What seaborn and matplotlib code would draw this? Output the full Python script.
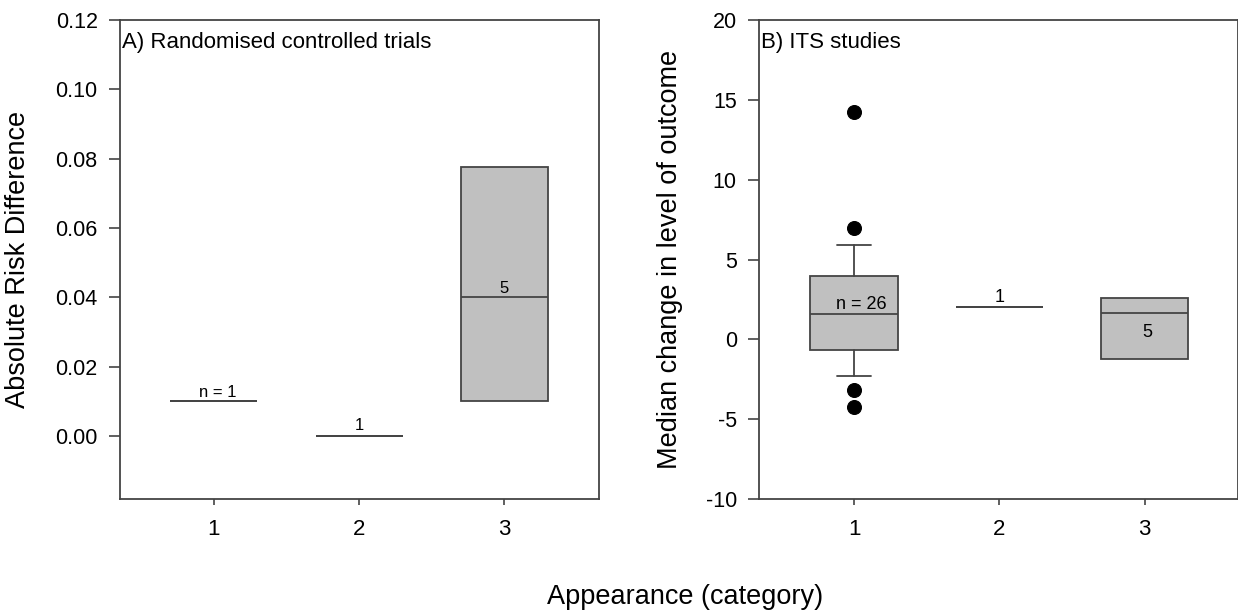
import matplotlib
matplotlib.use('Agg')
import matplotlib.pyplot as plt
import seaborn as sns

# panel A: randomised controlled trials (summary stats per category)
rct_cat = [1, 2, 3]
rct_q1 = [0.01, 0.0, 0.01]
rct_med = [0.01, 0.0, 0.04]
rct_q3 = [0.01, 0.0, 0.0775]
rct_labels = ['n = 1', '1', '5']

# panel B: ITS studies
its_cat = [1, 2, 3]
its_q1 = [-0.68, 2.03, -1.23]
its_med = [1.61, 2.03, 1.65]
its_q3 = [3.95, 2.03, 2.62]
its_wlo = [-2.27, 2.03, -1.23]
its_whi = [5.89, 2.03, 2.62]
its_labels = ['n = 26', '1', '5']
its_out_x = [1, 1, 1, 1]
its_out_y = [14.23, 6.96, -3.18, -4.23]

sns.set_style('ticks')
plt.rcParams['font.family'] = ['Liberation Sans', 'DejaVu Sans']
plt.rcParams['axes.unicode_minus'] = False
plt.rcParams['text.color'] = 'black'
plt.rcParams['axes.labelcolor'] = 'black'
plt.rcParams['xtick.labelcolor'] = 'black'
plt.rcParams['ytick.labelcolor'] = 'black'

line_col = '#444444'
box_col = '#c0c0c0'

fig = plt.figure(figsize=(12.38, 6.14), dpi=100)
ax1 = fig.add_axes([0.0969, 0.1873, 0.3869, 0.7801])
ax2 = fig.add_axes([0.6131, 0.1873, 0.3869, 0.7801])


def draw_boxes(ax, cats, q1, med, q3, wlo, whi, capw):
    stats = []
    for i in range(len(cats)):
        stats.append(dict(med=med[i], q1=q1[i], q3=q3[i],
                          whislo=wlo[i], whishi=whi[i], fliers=[]))
    ax.bxp(stats, positions=cats, widths=0.6, patch_artist=True,
           showfliers=False, capwidths=capw,
           boxprops=dict(facecolor=box_col, edgecolor=line_col, linewidth=1.3),
           medianprops=dict(color=line_col, linewidth=1.3),
           whiskerprops=dict(color=line_col, linewidth=1.3),
           capprops=dict(color=line_col, linewidth=1.3))


def style_axis(ax):
    for s in ax.spines.values():
        s.set_color(line_col)
        s.set_linewidth(1.3)
    ax.tick_params(axis='y', length=8, width=1.2, color=line_col, labelsize=15.5,
                   pad=8, labelcolor='black')
    ax.tick_params(axis='x', length=4.5, width=1.2, color=line_col, labelsize=16,
                   pad=10, labelcolor='black')
    ax.set_xticks([1, 2, 3])
    ax.set_xticklabels(['1', '2', '3'])


# panel A
draw_boxes(ax1, rct_cat, rct_q1, rct_med, rct_q3, rct_q1, rct_q3, [0, 0, 0])
ax1.set_xlim(0.353, 3.651)
ax1.set_ylim(-0.0182, 0.12)
ax1.set_yticks([0.0, 0.02, 0.04, 0.06, 0.08, 0.10, 0.12])
ax1.set_yticklabels(['0.00', '0.02', '0.04', '0.06', '0.08', '0.10', '0.12'])
style_axis(ax1)
offs_a = [(3, 3), (0, 4), (0, 3)]
for (x, y, t), (dx, dy) in zip(zip(rct_cat, rct_med, rct_labels), offs_a):
    ax1.annotate(t, (x, y), xytext=(dx, dy), textcoords='offset points',
                 ha='center', va='baseline', fontsize=12, color='black')
ax1.text(0.004, 0.9415, 'A) Randomised controlled trials', transform=ax1.transAxes,
         ha='left', va='baseline', fontsize=16, color='black')
ax1.set_ylabel('Absolute Risk Difference', fontsize=19.5, color='black')
ax1.yaxis.set_label_coords(-0.185, 0.5)

# panel B
draw_boxes(ax2, its_cat, its_q1, its_med, its_q3, its_wlo, its_whi, [0.23, 0, 0])
sns.scatterplot(x=its_out_x, y=its_out_y, color='black', edgecolor='black',
                s=100, ax=ax2, zorder=3)
ax2.set_xlim(0.346, 3.643)
ax2.set_ylim(-10, 20)
ax2.set_yticks([-10, -5, 0, 5, 10, 15, 20])
style_axis(ax2)
offs_b = [(5, 3), (0, 3.5), (2, -17)]
for (x, y, t), (dx, dy) in zip(zip(its_cat, its_med, its_labels), offs_b):
    ax2.annotate(t, (x, y), xytext=(dx, dy), textcoords='offset points',
                 ha='center', va='baseline', fontsize=13, color='black')
ax2.text(0.004, 0.9415, 'B) ITS studies', transform=ax2.transAxes,
         ha='left', va='baseline', fontsize=16, color='black')
ax2.set_ylabel('Median change in level of outcome', fontsize=19.5, color='black')
ax2.set_xlabel('')
ax2.yaxis.set_label_coords(-0.159, 0.5)

fig.text(0.553, 0.028, 'Appearance (category)', ha='center', va='center',
         fontsize=19.5, color='black')

fig.savefig('out.png', dpi=100)
